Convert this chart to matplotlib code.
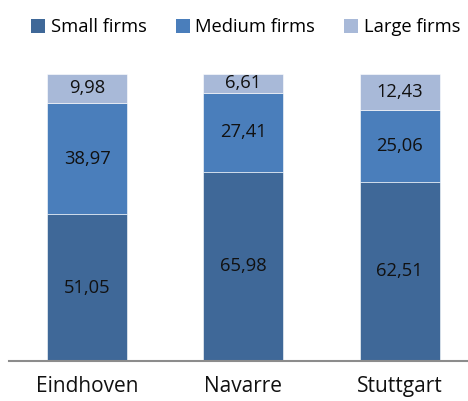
import matplotlib.pyplot as plt
from matplotlib.patches import Patch
import numpy as np

plt.rcParams['font.family'] = ['Open Sans', 'DejaVu Sans']

regions = ['Eindhoven', 'Navarre', 'Stuttgart']
small = [51.05, 65.98, 62.51]
medium = [38.97, 27.41, 25.06]
large = [9.98, 6.61, 12.43]

series_names = ['Small firms', 'Medium firms', 'Large firms']
colors = ['#3f6898', '#4a7ebb', '#a8b9d8']

fig = plt.figure(figsize=(4.68, 4.01), dpi=100)
ax = fig.add_axes([9.1 / 468, 40 / 401, 1 - 9.1 / 468, 287 / 401])

x = np.arange(len(regions))
bottom = np.zeros(len(regions))
for vals, col in zip([small, medium, large], colors):
    ax.bar(x, vals, width=0.512, bottom=bottom, color=col,
           edgecolor='#ffffff', linewidth=0.4)
    for xi, b, v in zip(x, bottom, vals):
        ax.text(xi, b + v / 2, ('%.2f' % v).replace('.', ','),
                ha='center', va='center', fontsize=13.2, color='#111111')
    bottom += np.array(vals)

ax.set_xlim(-0.5, (468 - 87.2) / 156.2)
ax.set_ylim(0, 100)
ax.set_yticks([])
ax.set_xticks(x)
ax.set_xticklabels(regions, fontsize=15, color='#111111')
ax.tick_params(axis='x', length=0, pad=11)
for s in ['top', 'right', 'left']:
    ax.spines[s].set_visible(False)
ax.spines['bottom'].set_color('#8c8c8c')
ax.spines['bottom'].set_linewidth(1.5)

handles = [Patch(facecolor=c, label=n) for c, n in zip(colors, series_names)]
fig.legend(handles=handles, loc='center', bbox_to_anchor=(0.525, 0.932), ncol=3,
           frameon=False, fontsize=13.2, handlelength=0.75, handleheight=0.75,
           handletextpad=0.3, columnspacing=1.6)

fig.savefig('out.png', dpi=100)
